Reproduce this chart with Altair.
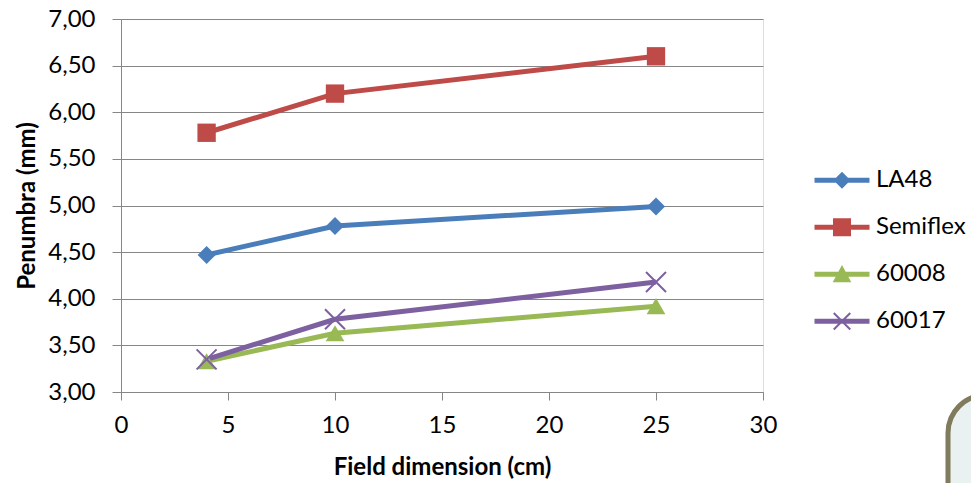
import math
import altair as alt
import pandas as pd

# ---------------- data ----------------
series = ["LA48", "Semiflex", "60008", "60017"]
field_cm = [4, 10, 25]
la48 = [4.47, 4.78, 4.99]
semiflex = [5.78, 6.20, 6.60]
v60008 = [3.33, 3.63, 3.92]
v60017 = [3.35, 3.78, 4.18]
colors = ["#4A7EBB", "#BE4B48", "#98B954", "#7D60A0"]
y_ticks = [3.0, 3.5, 4.0, 4.5, 5.0, 5.5, 6.0, 6.5, 7.0]
x_ticks = [0, 5, 10, 15, 20, 25, 30]

rows = []
for name, vals in zip(series, [la48, semiflex, v60008, v60017]):
    for x, y in zip(field_cm, vals):
        rows.append({"series": name, "x": x, "y": y})
df = pd.DataFrame(rows)

FONT = "Lato"
GRID = "#868686"


# ---------------- legend symbol paths (unit box, 1 unit = 12.5 px) ----------------
def poly(points):
    s = 0
    n = len(points)
    for i in range(n):
        x1, y1 = points[i]
        x2, y2 = points[(i + 1) % n]
        s += x1 * y2 - x2 * y1
    if s < 0:
        points = points[::-1]
    return "M" + "L".join(f"{x:.3f},{y:.3f}" for x, y in points) + "Z"


def rect(x0, y0, x1, y1):
    return poly([(x0, y0), (x1, y0), (x1, y1), (x0, y1)])


LINE = rect(-2.2, -0.2, 2.2, 0.2)
leg_diamond = LINE + poly([(0, -0.68), (0.68, 0), (0, 0.68), (-0.68, 0)])
leg_square = LINE + rect(-0.72, -0.72, 0.72, 0.72)
leg_tri = LINE + poly([(0, -0.74), (0.74, 0.64), (-0.74, 0.64)])
a, d = 0.66, 0.08 / math.sqrt(2)
arm1 = poly([(-a + d, -a - d), (a + d, a - d), (a - d, a + d), (-a - d, -a + d)])
arm2 = poly([(a + d, -a + d), (-a + d, a + d), (-a - d, a - d), (a - d, -a - d)])
leg_x = LINE + arm1 + arm2

X_PATH = "M-1,-1L1,1M-1,1L1,-1"

cscale = alt.Scale(domain=series, range=colors)

x_enc = alt.X(
    "x:Q",
    scale=alt.Scale(domain=[0, 30], nice=False),
    axis=alt.Axis(
        values=x_ticks, format="d", grid=False, tickSize=8, tickColor=GRID,
        domainColor=GRID, labelFont=FONT, labelFontSize=24, labelColor="black",
        labelPadding=13, labelFlush=False, title="Field dimension (cm)",
        titleFont=FONT, titleFontSize=24, titleFontWeight="bold",
        titleColor="black", titlePadding=18,
    ),
)
y_enc = alt.Y(
    "y:Q",
    scale=alt.Scale(domain=[3, 7], nice=False),
    axis=alt.Axis(
        values=y_ticks,
        labelExpr="replace(format(datum.value, '.2f'), '.', ',')",
        grid=True, gridColor=GRID, gridWidth=1, tickSize=9, tickColor=GRID,
        domainColor=GRID, labelFont=FONT, labelFontSize=24, labelColor="black",
        labelPadding=17, labelFlush=False, title="Penumbra (mm)",
        titleFont=FONT, titleFontSize=24, titleFontWeight="bold",
        titleColor="black", titlePadding=8,
    ),
)

base = alt.Chart(df)

lines = base.mark_line(strokeWidth=5).encode(
    x=x_enc, y=y_enc,
    color=alt.Color("series:N", scale=cscale, legend=None),
    detail="series:N",
)

filled_pts = base.transform_filter("datum.series != '60017'").mark_point(
    filled=True, opacity=1
).encode(
    x="x:Q", y="y:Q",
    color=alt.Color("series:N", scale=cscale, legend=None),
    shape=alt.Shape("series:N", scale=alt.Scale(
        domain=series, range=["diamond", "square", "triangle-up", "circle"]), legend=None),
    size=alt.Size("series:N", scale=alt.Scale(
        domain=series, range=[324, 361, 441, 100]), legend=None),
)

x_pts = base.transform_filter("datum.series == '60017'").mark_point(
    filled=False, opacity=1, shape=X_PATH, size=400, strokeWidth=2
).encode(
    x="x:Q", y="y:Q",
    color=alt.Color("series:N", scale=cscale, legend=None),
)

legend = alt.Legend(
    orient="none", legendX=708.5, legendY=148.8, title=None,
    labelFont=FONT, labelFontSize=24, labelColor="black",
    symbolSize=625, rowPadding=22, labelOffset=21.5, padding=0,
    symbolStrokeWidth=0, symbolOpacity=1,
)
legend_layer = base.transform_filter("false").mark_point(
    filled=True, opacity=1
).encode(
    color=alt.Color("series:N", scale=cscale, legend=legend),
    shape=alt.Shape("series:N", scale=alt.Scale(
        domain=series, range=[leg_diamond, leg_square, leg_tri, leg_x]), legend=legend),
)

# decorative rounded panel at lower right (slide background)
deco = alt.Chart(pd.DataFrame({"k": [0]})).mark_rect(
    cornerRadius=38, fill="#E9F1F1", stroke="#807B5C", strokeWidth=5
).encode(
    x=alt.value(827), x2=alt.value(1027), y=alt.value(376), y2=alt.value(576)
)

chart = alt.layer(deco, lines, filled_pts, x_pts, legend_layer).resolve_scale(
    color="independent", shape="independent", size="independent"
).properties(
    width=642, height=373,
    autosize=alt.AutoSizeParams(type="none"),
    padding={"left": 121, "top": 19, "right": 208, "bottom": 91},
).configure_view(stroke=None).configure(background="white")

chart.save("out.html", embed_options={"renderer": "svg", "actions": False})
